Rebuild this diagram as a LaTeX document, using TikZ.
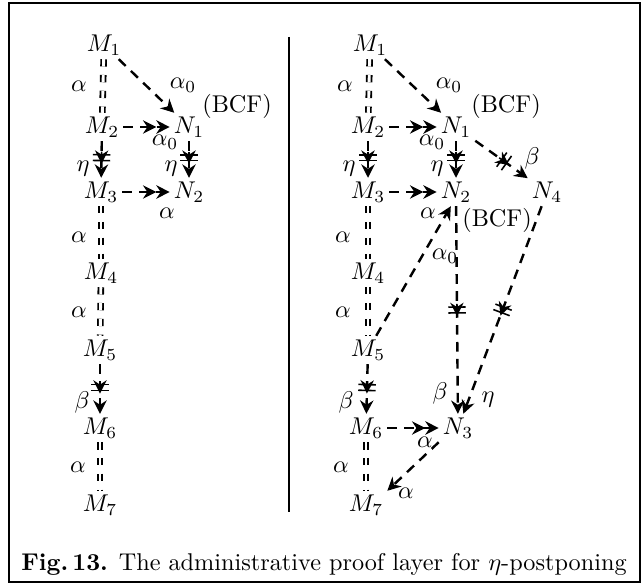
\documentclass[tikz,border=0pt]{standalone}
\usetikzlibrary{arrows.meta,decorations.markings}
\tikzset{
  obj/.style={inner sep=1.5pt},
  lab/.style={inner sep=0pt},
  eqline/.style={double,double distance=1.2pt,line width=0.75pt,dash pattern=on 3pt off 3.5pt},
  dasharr/.style={line width=1pt,dash pattern=on 4pt off 3pt,-{Stealth[length=5.5pt,width=5.5pt]}},
  dashtwo/.style={line width=1pt,dash pattern=on 4pt off 3pt,-{Stealth[length=5.5pt,width=5.5pt]Stealth[length=5.5pt,width=5.5pt]}},
  barred/.style={postaction={decorate},decoration={markings,
    mark=at position #1 with {\draw[solid,line width=0.65pt] (-1.2pt,-3.6pt)--(-1.2pt,3.6pt) (1.2pt,-3.6pt)--(1.2pt,3.6pt) (-2.5pt,0)--(2.5pt,0);}}}
}
\begin{document}
\begin{tikzpicture}[x=0.0145cm,y=-0.0145cm]
\useasboundingbox (0,0) rectangle (643,588);
\draw[line width=0.8pt] (9,3) rectangle (640,582);
\draw[line width=0.8pt] (289,37) -- (289,512);
% left diagram
\node[obj] (lM1) at (104,45) {$M_1$};
\node[obj] (lM2) at (102,127) {$M_2$};
\node[obj] (lN1) at (189,127) {$N_1$};
\node[lab] (lbcf) at (237,106) {(BCF)};
\node[obj] (lM3) at (101,192) {$M_3$};
\node[obj] (lN2) at (189,192) {$N_2$};
\node[obj] (lM4) at (101,273) {$M_4$};
\node[obj] (lM5) at (100,350) {$M_5$};
\node[obj] (lM6) at (100,428) {$M_6$};
\node[obj] (lM7) at (100,505) {$M_7$};
\draw[eqline] (lM1) -- (lM2);
\draw[eqline] (lM3) -- (lM4);
\draw[eqline] (lM4) -- (lM5);
\draw[eqline] (lM6) -- (lM7);
\draw[dasharr] (lM1) -- (lN1);
\draw[dashtwo] (lM2) -- (lN1);
\draw[dashtwo] (lM3) -- (lN2);
\draw[dasharr,barred=0.45] (lM2) -- (lM3);
\draw[dasharr,barred=0.45] (lN1) -- (lN2);
\draw[dasharr,barred=0.47] (lM5) -- (lM6);
\node[lab] (la12) at (79,86) {$\alpha$};
\node[lab] (la34) at (79,237) {$\alpha$};
\node[lab] (la45) at (79,312) {$\alpha$};
\node[lab] (la67) at (78,467) {$\alpha$};
\node[lab] (lo11) at (183,85) {$\alpha_0$};
\node[lab] (lo21) at (165,142) {$\alpha_0$};
\node[lab] (le23) at (83,169) {$\eta$};
\node[lab] (le12) at (171,169) {$\eta$};
\node[lab] (la32) at (167,213) {$\alpha$};
\node[lab] (lb56) at (82,402) {$\beta$};
% right diagram
\node[obj] (rM1) at (370,45) {$M_1$};
\node[obj] (rM2) at (368,127) {$M_2$};
\node[obj] (rN1) at (456,127) {$N_1$};
\node[lab] (rbcf) at (506,106) {(BCF)};
\node[obj] (rM3) at (368,192) {$M_3$};
\node[obj] (rN2) at (456,192) {$N_2$};
\node[obj] (rN4) at (547,192) {$N_4$};
\node[lab] (rbcf2) at (497,220) {(BCF)};
\node[obj] (rM4) at (368,273) {$M_4$};
\node[obj] (rM5) at (368,350) {$M_5$};
\node[obj] (rM6) at (366,428) {$M_6$};
\node[obj] (rN3) at (458,428) {$N_3$};
\node[obj] (rM7) at (366,505) {$M_7$};
\draw[eqline] (rM1) -- (rM2);
\draw[eqline] (rM3) -- (rM4);
\draw[eqline] (rM4) -- (rM5);
\draw[eqline] (rM6) -- (rM7);
\draw[dasharr] (rM1) -- (rN1);
\draw[dashtwo] (rM2) -- (rN1);
\draw[dashtwo] (rM3) -- (rN2);
\draw[dashtwo] (rM6) -- (rN3);
\draw[dasharr,barred=0.45] (rM2) -- (rM3);
\draw[dasharr,barred=0.45] (rN1) -- (rN2);
\draw[dasharr,barred=0.47] (rM5) -- (rM6);
\draw[dasharr,barred=0.55] (rN1) -- (rN4);
\draw[dasharr] (rM5.60) -- (rN2.250);
\draw[dasharr,barred=0.5] (rN2) -- (rN3);
\draw[dasharr,barred=0.5] (rN4) -- (rN3);
\draw[dasharr] (rN3.south west) -- (rM7.north east);
\node[lab] (ra12) at (345,86) {$\alpha$};
\node[lab] (ra34) at (343,237) {$\alpha$};
\node[lab] (ra45) at (343,312) {$\alpha$};
\node[lab] (ra67) at (341,467) {$\alpha$};
\node[lab] (ro11) at (449,85) {$\alpha_0$};
\node[lab] (ro21) at (432,142) {$\alpha_0$};
\node[lab] (re23) at (349,169) {$\eta$};
\node[lab] (re12) at (437,169) {$\eta$};
\node[lab] (rb14) at (532,158) {$\beta$};
\node[lab] (ra52) at (428,213) {$\alpha$};
\node[lab] (ro52) at (445,256) {$\alpha_0$};
\node[lab] (rb23) at (440,393) {$\beta$};
\node[lab] (re43) at (488,400) {$\eta$};
\node[lab] (rb56) at (346,402) {$\beta$};
\node[lab] (ra63) at (425,442) {$\alpha$};
\node[lab] (ra37) at (406,493) {$\alpha$};
% caption
\node[lab] (cap) at (324,564) {\textbf{Fig.\,13.} The administrative proof layer for $\eta$-postponing};
\end{tikzpicture}
\end{document}
